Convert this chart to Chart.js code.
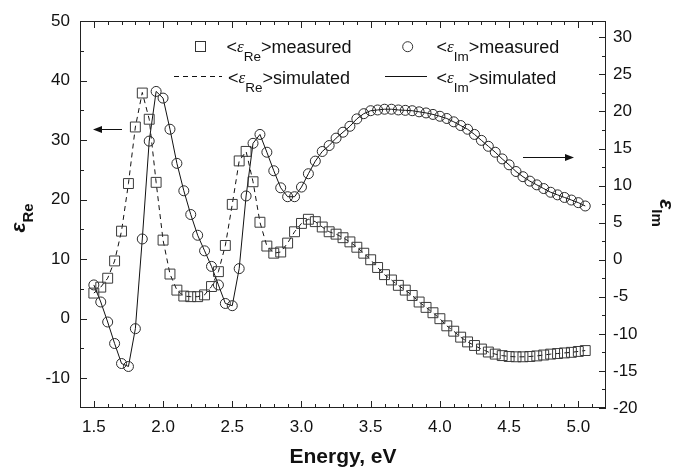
<!DOCTYPE html>
<html><head><meta charset="utf-8">
<script src="https://cdn.jsdelivr.net/npm/chart.js@4.4.1/dist/chart.umd.min.js"></script>
<style>html,body{margin:0;padding:0;background:#fff}canvas{display:block}</style>
</head><body>
<canvas id="c" width="683" height="467"></canvas>
<script>
const energy = [1.50,1.55,1.60,1.65,1.70,1.75,1.80,1.85,1.90,1.95,
  2.00,2.05,2.10,2.15,2.20,2.25,2.30,2.35,2.40,2.45,
  2.50,2.55,2.60,2.65,2.70,2.75,2.80,2.85,2.90,2.95,
  3.00,3.05,3.10,3.15,3.20,3.25,3.30,3.35,3.40,3.45,
  3.50,3.55,3.60,3.65,3.70,3.75,3.80,3.85,3.90,3.95,
  4.00,4.05,4.10,4.15,4.20,4.25,4.30,4.35,4.40,4.45,
  4.50,4.55,4.60,4.65,4.70,4.75,4.80,4.85,4.90,4.95,
  5.00,5.05];
const reMeasured = [4.3,5.3,6.8,9.7,14.7,22.7,32.2,37.9,33.5,22.9,
  13.2,7.5,4.8,3.8,3.7,3.7,4.0,5.4,7.9,12.3,
  19.2,26.5,28.1,23.0,16.2,12.2,11.0,11.2,12.7,14.6,
  16.0,16.7,16.3,15.4,14.6,14.2,13.6,12.9,12.0,11.0,
  9.9,8.6,7.4,6.5,5.6,4.8,3.9,2.8,1.9,1.0,
  0.0,-1.2,-2.1,-3.1,-3.9,-4.5,-5.1,-5.6,-5.95,-6.2,
  -6.35,-6.4,-6.4,-6.35,-6.25,-6.1,-5.95,-5.85,-5.75,-5.65,
  -5.5,-5.35];
const imMeasured = [-3.4,-5.7,-8.4,-11.3,-14.0,-14.4,-9.3,2.8,16.0,22.7,
  21.8,17.6,13.0,9.3,6.1,3.3,1.2,-0.9,-3.4,-5.9,
  -6.2,-1.2,8.6,15.7,16.9,14.5,12.0,9.7,8.5,8.5,
  9.8,11.6,13.3,14.6,15.4,16.4,17.2,18.0,19.0,19.7,
  20.1,20.2,20.3,20.3,20.2,20.15,20.1,19.95,19.8,19.6,
  19.35,19.05,18.6,18.1,17.6,16.9,16.1,15.3,14.5,13.6,
  12.8,11.9,11.2,10.6,10.1,9.6,9.1,8.75,8.4,8.05,
  7.7,7.25];
const reSimulated = [4.3,5.3,6.8,9.7,14.7,22.7,32.2,38.0,33.5,22.9,
  13.2,7.5,4.8,3.8,3.7,3.7,4.0,5.4,7.9,12.3,
  19.2,26.5,28.1,23.0,16.2,12.2,11.0,11.2,12.7,14.6,
  16.0,16.7,16.3,15.4,14.6,14.2,13.6,12.9,12.0,11.0,
  9.9,8.6,7.4,6.5,5.6,4.8,3.9,2.8,1.9,1.0,
  0.0,-1.2,-2.1,-3.1,-3.9,-4.5,-5.1,-5.6,-5.95,-6.2,
  -6.35,-6.4,-6.4,-6.35,-6.25,-6.1,-5.95,-5.85,-5.75,-5.65,
  -5.5,-5.35];
const imSimulated = [-3.4,-5.7,-8.4,-11.3,-14.0,-14.4,-9.3,2.8,16.0,22.7,
  21.8,17.6,13.0,9.3,6.1,3.3,1.2,-0.9,-3.4,-5.9,
  -6.2,-1.2,8.6,15.7,16.9,14.5,12.0,9.7,8.5,8.5,
  9.8,11.6,13.3,14.6,15.4,16.4,17.2,18.0,19.0,19.7,
  20.1,20.2,20.3,20.3,20.2,20.15,20.1,19.95,19.8,19.6,
  19.35,19.05,18.6,18.1,17.6,16.9,16.1,15.3,14.5,13.6,
  12.8,11.9,11.2,10.6,10.1,9.6,9.1,8.75,8.4,8.05,
  7.7,7.25];
const xTicks = [1.5,2.0,2.5,3.0,3.5,4.0,4.5,5.0];
const xMinorTicks = [1.4,1.6,1.7,1.8,1.9,2.1,2.2,2.3,2.4,2.6,2.7,2.8,2.9,3.1,3.2,3.3,3.4,3.6,3.7,3.8,3.9,4.1,4.2,4.3,4.4,4.6,4.7,4.8,4.9,5.1];
const yLeftTicks = [-10,0,10,20,30,40,50];
const yLeftMinor = [-5,5,15,25,35,45];
const yRightTicks = [-20,-15,-10,-5,0,5,10,15,20,25,30];
const yRightMinor = [-17.5,-12.5,-7.5,-2.5,2.5,7.5,12.5,17.5,22.5,27.5];

const FONT = "'Liberation Sans', Arial, sans-serif";
Chart.defaults.font.family = FONT;
Chart.defaults.color = '#111';

const pts = ys => energy.map((e, i) => ({x: e, y: ys[i]}));
const setTicks = arr => s => { s.ticks = arr.map(v => ({value: v})); };

function drawParts(ctx, x, y, parts, align) {
  let total = 0;
  parts.forEach(p => { ctx.font = p.font; p.w = ctx.measureText(p.t).width; total += p.w; });
  let cx = align === 'center' ? x - total / 2 : x;
  ctx.textBaseline = 'alphabetic';
  ctx.textAlign = 'left';
  parts.forEach(p => { ctx.font = p.font; ctx.fillText(p.t, cx, y + (p.dy || 0)); cx += p.w; });
}

const LF = "18px " + FONT;
const LE = "italic 17px 'Liberation Serif', serif";
const LS = "13.5px " + FONT;

const decor = {
  id: 'decor',
  afterDatasetsDraw(chart) {
    const ctx = chart.ctx;
    const a = chart.chartArea;
    const sx = chart.scales.x, sy = chart.scales.y, sy2 = chart.scales.y2;
    ctx.save();
    ctx.strokeStyle = '#222';
    ctx.lineWidth = 1;
    ctx.strokeRect(Math.round(a.left) + 0.5, Math.round(a.top) + 0.5, Math.round(a.right - a.left) - 1, Math.round(a.bottom - a.top) - 1);
    ctx.beginPath();
    const vt = (v, len) => { const px = Math.round(sx.getPixelForValue(v)) + 0.5;
      ctx.moveTo(px, a.bottom); ctx.lineTo(px, a.bottom - len);
      ctx.moveTo(px, a.top); ctx.lineTo(px, a.top + len); };
    xTicks.forEach(v => vt(v, 7)); xMinorTicks.forEach(v => vt(v, 4));
    const lt = (v, len) => { const py = Math.round(sy.getPixelForValue(v)) + 0.5;
      ctx.moveTo(a.left, py); ctx.lineTo(a.left + len, py); };
    yLeftTicks.forEach(v => lt(v, 7)); yLeftMinor.forEach(v => lt(v, 4));
    const rt = (v, len) => { const py = Math.round(sy2.getPixelForValue(v)) + 0.5;
      ctx.moveTo(a.right, py); ctx.lineTo(a.right - len, py); };
    yRightTicks.forEach(v => rt(v, 7)); yRightMinor.forEach(v => rt(v, 4));
    ctx.stroke();

    // legend
    ctx.fillStyle = '#111';
    ctx.strokeStyle = '#333';
    ctx.strokeRect(195.5, 41.5, 10, 10);
    ctx.beginPath(); ctx.arc(407.7, 46.7, 5, 0, Math.PI * 2); ctx.stroke();
    ctx.strokeStyle = '#111';
    ctx.beginPath(); ctx.setLineDash([5, 4]); ctx.moveTo(174, 76.5); ctx.lineTo(222, 76.5); ctx.stroke();
    ctx.setLineDash([]);
    ctx.beginPath(); ctx.moveTo(385, 76.5); ctx.lineTo(427, 76.5); ctx.stroke();
    drawParts(ctx, 226.5, 53, [{t:'<', font:LF}, {t:'\u03B5', font:LE, dy:-1}, {t:'Re', font:LS, dy:8}, {t:'>measured', font:LF}]);
    drawParts(ctx, 436.5, 53, [{t:'<', font:LF}, {t:'\u03B5', font:LE, dy:-1}, {t:'Im', font:LS, dy:8}, {t:'>measured', font:LF}]);
    drawParts(ctx, 228, 84, [{t:'<', font:LF}, {t:'\u03B5', font:LE, dy:-1}, {t:'Re', font:LS, dy:8}, {t:'>simulated', font:LF}]);
    drawParts(ctx, 436.5, 84, [{t:'<', font:LF}, {t:'\u03B5', font:LE, dy:-1}, {t:'Im', font:LS, dy:8}, {t:'>simulated', font:LF}]);

    // arrows
    ctx.fillStyle = '#111';
    ctx.beginPath(); ctx.moveTo(100, 129.5); ctx.lineTo(122, 129.5); ctx.stroke();
    ctx.beginPath(); ctx.moveTo(93, 129.5); ctx.lineTo(102, 126); ctx.lineTo(102, 133); ctx.closePath(); ctx.fill();
    ctx.beginPath(); ctx.moveTo(523, 157.5); ctx.lineTo(566, 157.5); ctx.stroke();
    ctx.beginPath(); ctx.moveTo(574, 157.5); ctx.lineTo(565, 154); ctx.lineTo(565, 161); ctx.closePath(); ctx.fill();

    // axis titles
    drawParts(ctx, 343, 463, [{t:'Energy, eV', font:"bold 21px " + FONT}], 'center');
    ctx.save(); ctx.translate(25, 218); ctx.rotate(-Math.PI / 2);
    drawParts(ctx, 0, 0, [{t:'\u03B5', font:"bold italic 21px " + FONT}, {t:'Re', font:"bold 15px " + FONT, dy:8}], 'center');
    ctx.restore();
    ctx.save(); ctx.translate(660, 213); ctx.rotate(Math.PI / 2);
    drawParts(ctx, 0, 0, [{t:'\u03B5', font:"bold italic 21px " + FONT}, {t:'Im', font:"bold 15px " + FONT, dy:8}], 'center');
    ctx.restore();
    ctx.restore();
  }
};

new Chart(document.getElementById('c'), {
  type: 'line',
  data: { datasets: [
    { label: '<εRe>measured', data: pts(reMeasured), yAxisID: 'y', showLine: false, pointStyle: 'rect', pointRadius: 7, pointBorderColor: '#3a3a3a', pointBackgroundColor: 'rgba(0,0,0,0)', pointBorderWidth: 1 },
    { label: '<εIm>measured', data: pts(imMeasured), yAxisID: 'y2', showLine: false, pointStyle: 'circle', pointRadius: 5, pointBorderColor: '#2a2a2a', pointBackgroundColor: 'rgba(0,0,0,0)', pointBorderWidth: 1 },
    { label: '<εRe>simulated', data: pts(reSimulated), yAxisID: 'y', borderColor: '#111', borderWidth: 1, borderDash: [5, 4], pointRadius: 0, tension: 0, fill: false },
    { label: '<εIm>simulated', data: pts(imSimulated), yAxisID: 'y2', borderColor: '#111', borderWidth: 1, pointRadius: 0, tension: 0, fill: false }
  ]},
  options: {
    responsive: false, animation: false, devicePixelRatio: 1,
    layout: { padding: { top: 21, left: 0, right: 0, bottom: 0 } },
    plugins: { legend: { display: false }, tooltip: { enabled: false } },
    scales: {
      x: { type: 'linear', min: 1.4, max: 5.2, afterBuildTicks: setTicks(xTicks),
        ticks: { callback: v => v.toFixed(1), font: { size: 17 }, padding: 9, maxRotation: 0, autoSkip: false, color: '#111' },
        grid: { display: false, drawTicks: false }, border: { display: false }, afterFit: s => { s.height = 59; } },
      y: { position: 'left', min: -15, max: 50, afterBuildTicks: setTicks(yLeftTicks),
        ticks: { font: { size: 17 }, padding: 10, color: '#111' },
        grid: { display: false, drawTicks: false }, border: { display: false }, afterFit: s => { s.width = 80; } },
      y2: { position: 'right', min: -20, max: 32.2, afterBuildTicks: setTicks(yRightTicks),
        ticks: { font: { size: 17 }, padding: 7, color: '#111' },
        grid: { display: false, drawTicks: false }, border: { display: false }, afterFit: s => { s.width = 77; } }
    }
  },
  plugins: [decor]
});
</script>
</body></html>
